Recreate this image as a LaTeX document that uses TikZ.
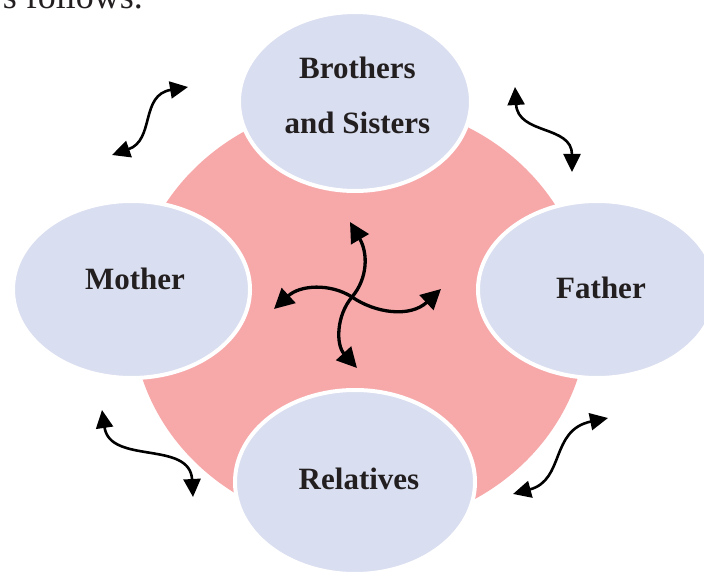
\documentclass[tikz,border=0pt]{standalone}
\usepackage{fontspec}
\setmainfont{Liberation Serif}
\usetikzlibrary{arrows.meta,shapes.geometric}
\definecolor{pinkbg}{HTML}{F7A9AA}
\definecolor{lav}{HTML}{D9DEF0}
\definecolor{ink}{HTML}{231F20}
\begin{document}
\begin{tikzpicture}[x=1pt,y=-1pt,
  blob/.style={ellipse, fill=lav, draw=white, line width=4pt, inner sep=0pt},
  lbl/.style={font=\bfseries\fontsize{31}{36}\selectfont, text=ink, anchor=base, inner sep=0pt},
  link/.style={line width=2.6pt, {Triangle[length=18pt 0,width=17pt 0]}-{Triangle[length=18pt 0,width=17pt 0]}},
  hub/.style={line width=3.3pt, {Triangle[length=20pt 0,width=20pt 0]}-{Triangle[length=20pt 0,width=20pt 0]}}]
\useasboundingbox (0,0) rectangle (704,572);
\clip (0,0) rectangle (704,572);
% heading fragment
\node[font=\fontsize{36}{40}\selectfont, text=ink, anchor=base east, inner sep=0pt] (head) at (143,8.5) {s follows.};
% pink backdrop
\fill[pinkbg] (360,315) ellipse [x radius=228, y radius=213];
% ellipses
\node[blob, minimum width=232pt, minimum height=179pt] (bs) at (355,101.5) {};
\node[blob, minimum width=237pt, minimum height=177pt] (mo) at (131.5,289.5) {};
\node[blob, minimum width=238pt, minimum height=177pt] (fa) at (597,289.5) {};
\node[blob, minimum width=240pt, minimum height=184pt] (re) at (355,482) {};
% labels
\node[lbl] (bst1) at (357.5,78.3) {Brothers};
\node[lbl] (bst2) at (357.5,133.3) {and Sisters};
\node[lbl] (mot) at (135,289.3) {Mother};
\node[lbl] (fat) at (601,298.3) {Father};
\node[lbl] (ret) at (359,489.3) {Relatives};
% outer arrow ends
\coordinate (a1) at (112,155); \coordinate (b1) at (188,87);
\coordinate (a2) at (515,87);  \coordinate (b2) at (572,172);
\coordinate (a3) at (102,410); \coordinate (b3) at (193,497);
\coordinate (a4) at (513,494); \coordinate (b4) at (608,418);
\draw[link] (a1) .. controls (155,140) and (140,95) .. (b1);
\draw[link] (a2) .. controls (518,135) and (572,125) .. (b2);
\draw[link] (a3) .. controls (110,465) and (190,440) .. (b3);
\draw[link] (a4) .. controls (565,480) and (550,430) .. (b4);
% centre arrows
\coordinate (x0) at (352,297);
\coordinate (up) at (350,222); \coordinate (dn) at (357,368);
\coordinate (lf) at (274,309); \coordinate (rt) at (441,289);
\draw[hub] (up) .. controls (368,253) and (368,278) .. (x0) .. controls (336,316) and (336,345) .. (dn);
\draw[hub] (lf) .. controls (300,285) and (330,283) .. (x0) .. controls (375,313) and (410,318) .. (rt);
\end{tikzpicture}
\end{document}
